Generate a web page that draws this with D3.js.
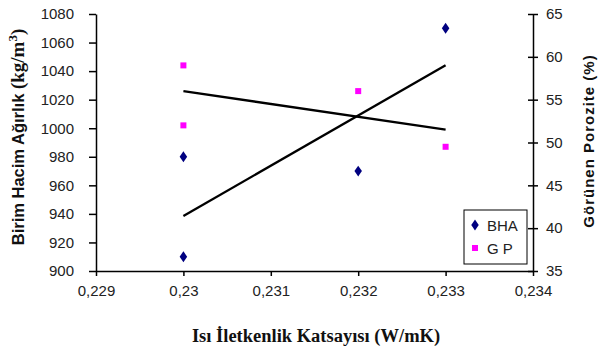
<!DOCTYPE html>
<html>
<head>
<meta charset="utf-8">
<script src="https://cdn.jsdelivr.net/npm/d3@7"></script>
<style>
body{margin:0;background:#fff;}
text{font-family:Arial,"Liberation Sans",sans-serif;}
</style>
</head>
<body>
<div id="chart"></div>
<script>
// BHA: Birim Hacim Ağırlık (left axis), GP: Görünen Porozite (right axis)
const bhaX = [0.23, 0.23, 0.232, 0.233];
const bhaY = [980, 910, 970, 1070];
const gpX = [0.23, 0.23, 0.232, 0.233];
const gpY = [59, 52, 56, 49.5];
const xTicks = [0.229, 0.23, 0.231, 0.232, 0.233, 0.234];
const leftTicks = [900, 920, 940, 960, 980, 1000, 1020, 1040, 1060, 1080];
const rightTicks = [35, 40, 45, 50, 55, 60, 65];

const W = 599, H = 351;
const svg = d3.select("#chart").append("svg")
    .attr("width", W).attr("height", H);

const x = d3.scaleLinear().domain([0.229, 0.234]).range([96, 533]);
const yL = d3.scaleLinear().domain([900, 1080]).range([271, 14]);
const yR = d3.scaleLinear().domain([35, 65]).range([271, 14]);

const fmt = d => String(+d.toFixed(3)).replace(".", ",");

// axes
const gx = svg.append("g").attr("transform", "translate(0,271)")
    .call(d3.axisBottom(x).tickValues(xTicks).tickSize(5).tickSizeOuter(0).tickPadding(9).tickFormat(fmt));
const gl = svg.append("g").attr("transform", "translate(96,0)")
    .call(d3.axisLeft(yL).tickValues(leftTicks).tickSize(7).tickSizeOuter(0).tickPadding(15).tickFormat(d3.format("d")));
const gr = svg.append("g").attr("transform", "translate(533,0)")
    .call(d3.axisRight(yR).tickValues(rightTicks).tickSize(5).tickSizeOuter(0).tickPadding(8));
gr.selectAll(".tick line").attr("x1", -5);

[gx, gl, gr].forEach(g => {
    g.select(".domain").attr("stroke", "#000").attr("stroke-width", 1.5);
    g.selectAll(".tick line").attr("stroke", "#000").attr("stroke-width", 1.5);
    g.selectAll(".tick text").attr("fill", "#222").style("font-size", "15px")
        .style("font-family", "Arial, 'Liberation Sans', sans-serif");
});

// trend lines (linear least squares)
function fit(xs, ys) {
    const mx = d3.mean(xs), my = d3.mean(ys);
    let sxy = 0, sxx = 0;
    xs.forEach((v, i) => { sxy += (v - mx) * (ys[i] - my); sxx += (v - mx) * (v - mx); });
    const b = sxy / sxx;
    return v => my + b * (v - mx);
}
const fB = fit(bhaX, bhaY), fG = fit(gpX, gpY);
const x0 = d3.min(bhaX), x1 = d3.max(bhaX);
svg.append("line")
    .attr("x1", x(x0)).attr("y1", yL(fB(x0)))
    .attr("x2", x(x1)).attr("y2", yL(fB(x1)))
    .attr("stroke", "#000").attr("stroke-width", 2.3);
svg.append("line")
    .attr("x1", x(x0)).attr("y1", yR(fG(x0)))
    .attr("x2", x(x1)).attr("y2", yR(fG(x1)))
    .attr("stroke", "#000").attr("stroke-width", 2.3);

// points
const diamond = d3.symbol().type(d3.symbolDiamond).size(34);
svg.selectAll(".bha").data(bhaX).enter().append("path")
    .attr("class", "bha")
    .attr("d", diamond)
    .attr("transform", (d, i) => `translate(${x(d)},${yL(bhaY[i])}) scale(1.2,1)`)
    .attr("fill", "#000080");
svg.selectAll(".gp").data(gpX).enter().append("rect")
    .attr("class", "gp")
    .attr("x", d => x(d) - 3)
    .attr("y", (d, i) => yR(gpY[i]) - 3)
    .attr("width", 6).attr("height", 6)
    .attr("fill", "#ff00ff");

// legend
const lg = svg.append("g");
lg.append("rect").attr("x", 464).attr("y", 210).attr("width", 63).attr("height", 54)
    .attr("fill", "#fff").attr("stroke", "#000").attr("stroke-width", 1);
lg.append("path").attr("d", diamond).attr("transform", "translate(475,225) scale(1.2,1)").attr("fill", "#000080");
lg.append("rect").attr("x", 472).attr("y", 245).attr("width", 6).attr("height", 6).attr("fill", "#ff00ff");
lg.append("text").attr("x", 487).attr("y", 231).text("BHA").style("font-size", "15px").attr("fill", "#222");
lg.append("text").attr("x", 487).attr("y", 254).text("G P").style("font-size", "15px").attr("fill", "#222");

// axis titles
const serif = "'Liberation Serif','Times New Roman',serif";
const lt = svg.append("text").attr("transform", "translate(24,137) rotate(-90)")
    .attr("text-anchor", "middle").attr("fill", "#111");
lt.append("tspan").text("Birim Hacim Ağırlık ")
    .style("font-weight", "bold").style("font-size", "16.5px");
lt.append("tspan").text("(kg/m")
    .style("font-family", serif)
    .style("font-weight", "bold").style("font-size", "19px");
lt.append("tspan").text("3").attr("dy", -7)
    .style("font-family", serif)
    .style("font-weight", "bold").style("font-size", "13px");
lt.append("tspan").text(")").attr("dy", 7)
    .style("font-family", serif)
    .style("font-weight", "bold").style("font-size", "19px");

svg.append("text").attr("transform", "translate(594,141) rotate(-90)")
    .attr("text-anchor", "middle").attr("fill", "#111")
    .style("font-weight", "bold").style("font-size", "15px").style("letter-spacing", "1px")
    .text("Görünen Porozite (%)");

svg.append("text").attr("x", 316).attr("y", 342)
    .attr("text-anchor", "middle").attr("fill", "#111")
    .style("font-family", serif)
    .style("font-weight", "bold").style("font-size", "18.5px")
    .text("Isı İletkenlik Katsayısı (W/mK)");
</script>
</body>
</html>
